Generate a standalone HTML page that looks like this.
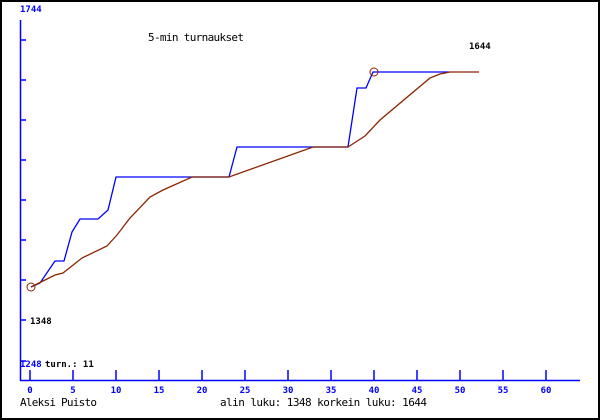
<!DOCTYPE html>
<html><head><style>
body{margin:0;background:#fff}
svg{display:block}
text{font-family:"DejaVu Sans Mono","Liberation Mono",monospace}
</style></head><body>
<svg width="600" height="420" xmlns="http://www.w3.org/2000/svg">
<rect x="1" y="1" width="598" height="418" fill="#fff" stroke="#000" stroke-width="2"/>
<g stroke="#00f" stroke-width="1.5" fill="none">
<line x1="20.5" y1="20" x2="20.5" y2="381"/>
<line x1="20" y1="380.5" x2="580" y2="380.5"/>
<path d="M21 40h5M21 80h5M21 120h5M21 160h5M21 200h5M21 240h5M21 280h5M21 320h5M21 361h5"/>
<path d="M30 370v10M73 370v10M116 370v10M159 370v10M202 370v10M245 370v10M288 370v10M331 370v10M374 370v10M417 370v10M460 370v10M503 370v10M546 370v10"/>
</g>
<g fill="#00f" font-size="9" font-weight="bold" text-anchor="middle">
<text x="30" y="393">0</text><text x="73" y="393">5</text><text x="116" y="393">10</text><text x="159" y="393">15</text><text x="202" y="393">20</text><text x="245" y="393">25</text><text x="288" y="393">30</text><text x="331" y="393">35</text><text x="374" y="393">40</text><text x="417" y="393">45</text><text x="460" y="393">50</text><text x="503" y="393">55</text><text x="546" y="393">60</text>
</g>
<text x="20" y="12" fill="#00f" font-size="9" font-weight="bold">1744</text>
<text x="20" y="367" fill="#00f" font-size="9" font-weight="bold">1248</text>
<text x="45" y="367" fill="#000" font-size="9" font-weight="bold">turn.: 11</text>
<text x="30" y="324" fill="#000" font-size="9" font-weight="bold">1348</text>
<text x="469" y="49" fill="#000" font-size="9" font-weight="bold">1644</text>
<text x="148" y="41" fill="#000" font-size="11" textLength="96">5-min turnaukset</text>
<text x="20" y="406" fill="#000" font-size="11" textLength="77">Aleksi Puisto</text>
<text x="220" y="406" fill="#000" font-size="11" textLength="207">alin luku: 1348  korkein luku: 1644</text>
<polyline fill="none" stroke="#00f" stroke-width="1.3" points="31,287 40,283 55,261 64,261 72,232 80,219 98,219 108,210 116,177 229,177 237,147 348,147 357,88 366,88 373,72 449,72"/>
<polyline fill="none" stroke="#8b2500" stroke-width="1.3" points="31,287 45,280 55,275 63,273 82,258 107,246 117,235 130,218 150,197 163,190 192,177 229,177 313,147 348,147 365,136 380,120 430,78 440,74 450,72 479,72"/>
<circle cx="31" cy="287" r="4" fill="none" stroke="#8b2500"/>
<circle cx="374" cy="72" r="4" fill="none" stroke="#8b2500"/>
</svg>
</body></html>
